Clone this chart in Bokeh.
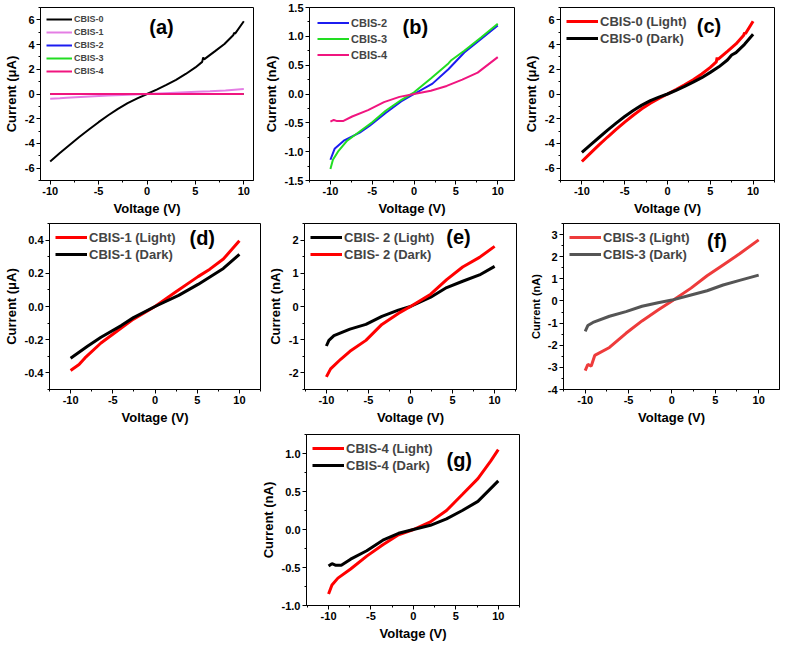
from bokeh.plotting import figure
from bokeh.models import FixedTicker, PrintfTickFormatter, Label, Range1d, Spacer
from bokeh.layouts import column, row
from bokeh.embed import file_html
from bokeh.resources import INLINE

# ---------------- data ----------------
# CBIS-0 (uA)
v0_light = [-10, -9, -8, -7, -6, -5, -4, -3, -2, -1, 0, 1, 2, 3, 4, 5, 5.7, 5.8, 5.9, 6, 7, 8, 8.9, 9, 9.1, 10]
i0_light = [-5.46, -4.78, -4.12, -3.48, -2.87, -2.28, -1.72, -1.2, -0.74, -0.35, 0.0, 0.36, 0.74, 1.15, 1.62, 2.15, 2.6, 2.95, 2.8, 2.86, 3.45, 4.05, 4.75, 4.95, 4.88, 5.89]
v0_dark = [-10, -9, -8, -7, -6, -5, -4, -3, -2, -1, 0, 1, 2, 3, 4, 5, 6, 7, 7.5, 8, 9, 10]
i0_dark = [-4.72, -4.12, -3.52, -2.93, -2.36, -1.82, -1.33, -0.9, -0.54, -0.25, 0.0, 0.3, 0.62, 0.96, 1.32, 1.75, 2.2, 2.75, 3.15, 3.35, 4.02, 4.83]
# CBIS-1 (uA)
v1_light = [-10, -9, -8.3, -6.4, -4, -2.55, 0, 2.4, 5.1, 6.5, 8.1, 10]
i1_light = [-0.385, -0.35, -0.31, -0.22, -0.13, -0.076, 0.0, 0.086, 0.18, 0.225, 0.286, 0.396]
v1_dark = [-10, -8, -6.4, -4, -2.55, 0, 2.8, 5.1, 8.1, 10]
i1_dark = [-0.312, -0.24, -0.185, -0.115, -0.067, 0.0, 0.067, 0.133, 0.229, 0.314]
# CBIS-2 (nA)
v2_dark = [-10, -9.5, -8.4, -6.5, -5.3, -3.4, -1.55, 0, 2.2, 4.1, 6.0, 7.9, 10]
i2_dark = [-1.14, -0.95, -0.81, -0.67, -0.55, -0.33, -0.13, 0.0, 0.18, 0.43, 0.72, 0.94, 1.19]
v2_light = [-10, -9.5, -8.3, -7.2, -5.3, -3.4, -1.4, 0, 2.4, 4.3, 6.2, 8.2, 10]
i2_light = [-2.12, -1.88, -1.59, -1.35, -1.02, -0.54, -0.2, 0.0, 0.37, 0.81, 1.19, 1.48, 1.81]
v2e_dark = [-10, -9.7, -9.1, -7.2, -5.3, -3.4, -1.45, 0, 2.4, 4.3, 6.2, 8.2, 10]
i2e_dark = [-1.19, -1.02, -0.88, -0.68, -0.54, -0.30, -0.11, 0.0, 0.28, 0.57, 0.76, 0.95, 1.21]
# CBIS-3 (nA)
v3_dark_b = [-10, -9.7, -9.1, -8, -6.5, -5, -3.4, -1.5, 0, 2, 4.1, 4.4, 6, 8, 10]
i3_dark_b = [-1.30, -1.14, -1.0, -0.81, -0.65, -0.49, -0.29, -0.1, 0.03, 0.27, 0.53, 0.58, 0.75, 0.98, 1.22]
v3_light = [-10, -9.7, -9.3, -8.9, -7.2, -5.3, -3.45, -1.6, 0, 2.2, 4.05, 5.9, 7.8, 10]
i3_light = [-3.15, -2.87, -2.94, -2.46, -2.1, -1.46, -0.9, -0.41, 0.0, 0.58, 1.14, 1.63, 2.13, 2.76]
v3_dark = [-10, -9.7, -9.1, -7.2, -5.3, -3.45, -1.6, 0, 2.2, 4.05, 5.9, 7.8, 10]
i3_dark = [-1.37, -1.11, -0.97, -0.69, -0.48, -0.24, -0.08, 0.04, 0.27, 0.46, 0.72, 0.93, 1.17]
# CBIS-4 (nA)
v4_dark = [-10, -9.6, -9.2, -8.5, -7.4, -5.5, -3.6, -1.75, 0, 2, 3.9, 5.76, 7.6, 10]
i4_dark = [-0.48, -0.45, -0.47, -0.47, -0.39, -0.28, -0.14, -0.05, 0.0, 0.055, 0.14, 0.25, 0.37, 0.64]
v4_light = [-10, -9.6, -8.9, -7.4, -5.5, -3.6, -1.75, 0, 2.0, 3.9, 5.76, 7.6, 9.1, 10]
i4_light = [-0.85, -0.73, -0.64, -0.52, -0.35, -0.2, -0.07, 0.0, 0.1, 0.25, 0.46, 0.67, 0.9, 1.05]

x_ticks = [-10, -5, 0, 5, 10]
x_minor = [-12.5, -7.5, -2.5, 2.5, 7.5, 12.5]
yt_a = [-6, -4, -2, 0, 2, 4, 6]
ym_a = [-7, -5, -3, -1, 1, 3, 5, 7]
yt_b = [-1.5, -1.0, -0.5, 0.0, 0.5, 1.0, 1.5]
ym_b = [-1.25, -0.75, -0.25, 0.25, 0.75, 1.25]
yt_d = [-0.4, -0.2, 0.0, 0.2, 0.4]
ym_d = [-0.5, -0.3, -0.1, 0.1, 0.3, 0.5]
yt_e = [-2, -1, 0, 1, 2]
ym_e = [-2.5, -1.5, -0.5, 0.5, 1.5, 2.5]
yt_f = [-4, -3, -2, -1, 0, 1, 2, 3]
ym_f = [-3.5, -2.5, -1.5, -0.5, 0.5, 1.5, 2.5, 3.5]
yt_g = [-1.0, -0.5, 0.0, 0.5, 1.0]
ym_g = [-0.75, -0.25, 0.25, 0.75, 1.25]

FONT = "Liberation Sans"


def panel(w, h, bl, br, bt, bb, xr, yr, yt, ym, ylabel, yfmt, ylab_size="13px"):
    p = figure(width=w, height=h, x_range=Range1d(*xr), y_range=Range1d(*yr),
               output_backend="svg", toolbar_location=None,
               min_border_left=bl, min_border_right=br,
               min_border_top=bt, min_border_bottom=bb)
    p.xgrid.visible = False
    p.ygrid.visible = False
    p.outline_line_color = "black"
    p.outline_line_width = 1
    p.outline_line_alpha = 1
    p.background_fill_color = "white"
    p.border_fill_color = "white"
    p.xaxis.ticker = FixedTicker(ticks=x_ticks, minor_ticks=x_minor)
    p.yaxis.ticker = FixedTicker(ticks=yt, minor_ticks=ym)
    p.xaxis.formatter = PrintfTickFormatter(format="%d")
    p.yaxis.formatter = PrintfTickFormatter(format=yfmt)
    p.xaxis.axis_label = "Voltage (V)"
    p.yaxis.axis_label = ylabel
    for ax in (p.xaxis[0], p.yaxis[0]):
        ax.axis_line_color = "black"
        ax.major_tick_line_color = "black"
        ax.minor_tick_line_color = "black"
        ax.major_tick_in = 0
        ax.major_tick_out = 4
        ax.minor_tick_in = 0
        ax.minor_tick_out = 2
        ax.major_label_text_font = FONT
        ax.major_label_text_font_style = "bold"
        ax.major_label_text_font_size = "11px"
        ax.major_label_text_color = "black"
        ax.major_label_standoff = 2
        ax.axis_label_text_font = FONT
        ax.axis_label_text_font_style = "bold"
        ax.axis_label_text_color = "black"
        ax.axis_label_standoff = 3
    p.xaxis.axis_label_text_font_size = "13px"
    p.yaxis.axis_label_text_font_size = ylab_size
    return p


def style_legend(p, size, gw, gh, margin=4):
    lg = p.legend[0]
    lg.location = "top_left"
    lg.border_line_alpha = 0
    lg.background_fill_alpha = 0
    lg.label_text_font = FONT
    lg.label_text_font_style = "bold"
    lg.label_text_font_size = size
    lg.glyph_width = gw
    lg.glyph_height = gh
    lg.label_height = gh
    lg.spacing = 1
    lg.padding = 2
    lg.margin = margin
    lg.label_standoff = 2


def tag(p, text, x, y):
    p.add_layout(Label(x=x, y=y, text=text, text_font=FONT, text_font_style="bold",
                       text_font_size="20px", text_align="center", text_baseline="middle",
                       text_color="black"))


# (a)
pa = panel(260, 220, 39, 7, 7, 40, (-11, 11), (-7, 7), yt_a, ym_a, "Current (μA)", "%d")
pa.line(v0_light, i0_light, line_color="black", line_width=2, legend_label="CBIS-0")
pa.line(v1_light, i1_light, line_color="#e47ee4", line_width=2, legend_label="CBIS-1")
pa.line(v2_dark, [i / 1000 for i in i2_dark], line_color="#1c1cf0", line_width=2, legend_label="CBIS-2")
pa.line(v3_dark_b, [i / 1000 for i in i3_dark_b], line_color="#22dd22", line_width=2, legend_label="CBIS-3")
pa.line(v4_dark, [i / 1000 for i in i4_dark], line_color="#f0157f", line_width=2, legend_label="CBIS-4")
style_legend(pa, "9px", 26, 12, margin=4)
tag(pa, "(a)", 1.5, 5.4)

# (b)
pb = panel(260, 220, 42, 6, 7, 40, (-12.5, 12), (-1.5, 1.5), yt_b, ym_b, "Current (nA)", "%.1f")
pb.line(v2_dark, i2_dark, line_color="#1c1cf0", line_width=2, legend_label="CBIS-2")
pb.line(v3_dark_b, i3_dark_b, line_color="#22dd22", line_width=2, legend_label="CBIS-3")
pb.line(v4_dark, i4_dark, line_color="#f0157f", line_width=2, legend_label="CBIS-4")
style_legend(pb, "11px", 32, 15, margin=6)
tag(pb, "(b)", 0.15, 1.16)

# (c)
pc = panel(264, 220, 40, 10, 7, 40, (-12.5, 12.5), (-7, 7), yt_a, ym_a, "Current (μA)", "%d")
pc.line(v0_light, i0_light, line_color="#ff0000", line_width=3, legend_label="CBIS-0 (Light)")
pc.line(v0_dark, i0_dark, line_color="black", line_width=3, legend_label="CBIS-0 (Dark)")
style_legend(pc, "13px", 32, 16, margin=4)
tag(pc, "(c)", 4.85, 5.5)

# (d)
pd = panel(264, 210, 46, 4, 3, 41, (-12.5, 12.5), (-0.5, 0.5), yt_d, ym_d, "Current (μA)", "%.1f")
pd.line(v1_light, i1_light, line_color="#ff0000", line_width=3, legend_label="CBIS-1 (Light)")
pd.line(v1_dark, i1_dark, line_color="black", line_width=3, legend_label="CBIS-1 (Dark)")
style_legend(pd, "13px", 32, 16, margin=4)
tag(pd, "(d)", 5.6, 0.41)

# (e)
pe = panel(260, 210, 38, 8, 3, 39, (-12.6, 12.6), (-2.5, 2.5), yt_e, ym_e, "Current (nA)", "%d")
pe.line(v2e_dark, i2e_dark, line_color="black", line_width=3, legend_label="CBIS- 2 (Light)")
pe.line(v2_light, i2_light, line_color="#ff0000", line_width=3, legend_label="CBIS- 2 (Dark)")
style_legend(pe, "13px", 32, 16, margin=4)
tag(pe, "(e)", 5.7, 2.1)

# (f)
pf = panel(260, 210, 39, 5, 3, 34, (-12.5, 12.4), (-4, 3.5), yt_f, ym_f, "Current (nA)", "%d", ylab_size="11px")
pf.line(v3_light, i3_light, line_color="#ee3b3b", line_width=3, legend_label="CBIS-3 (Light)")
pf.line(v3_dark, i3_dark, line_color="#555555", line_width=3, legend_label="CBIS-3 (Dark)")
style_legend(pf, "13px", 32, 16, margin=4)
tag(pf, "(f)", 5.2, 2.7)

# (g)
pg = panel(272, 213, 45, 10, 4, 33, (-12.6, 12.5), (-1.0, 1.25), yt_g, ym_g, "Current (nA)", "%.1f")
pg.line(v4_light, i4_light, line_color="#ff0000", line_width=3, legend_label="CBIS-4 (Light)")
pg.line(v4_dark, i4_dark, line_color="black", line_width=3, legend_label="CBIS-4 (Dark)")
style_legend(pg, "13px", 32, 16, margin=4)
tag(pg, "(g)", 5.4, 0.92)

layout = column(row(pa, pb, pc), row(pd, pe, pf), row(Spacer(width=257, height=213), pg))

open("out.html", "w").write(file_html(layout, INLINE))
